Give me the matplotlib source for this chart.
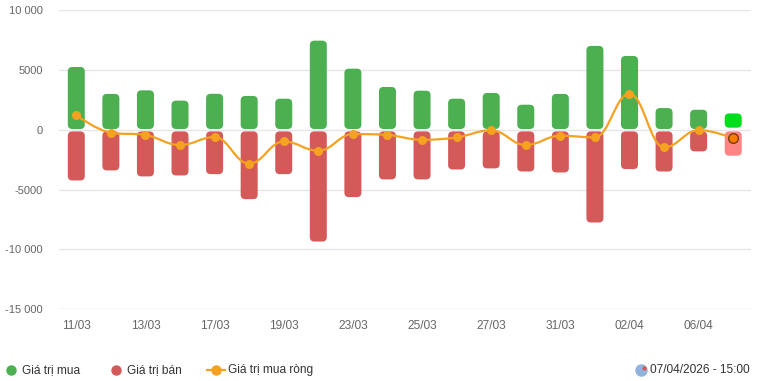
import matplotlib
matplotlib.use("Agg")
import matplotlib.pyplot as plt
from matplotlib.patches import FancyBboxPatch
from matplotlib.path import Path
from matplotlib.patches import PathPatch
from matplotlib.lines import Line2D
import numpy as np

plt.rcParams['font.family'] = ['Liberation Sans', 'DejaVu Sans']

dates = ["11/03", "12/03", "13/03", "16/03", "17/03", "18/03", "19/03", "20/03",
         "23/03", "24/03", "25/03", "26/03", "27/03", "30/03", "31/03", "01/04",
         "02/04", "03/04", "06/04", "07/04"]
buy = [5240, 2990, 3290, 2430, 3000, 2820, 2590, 7440, 5100, 3570,
       3260, 2590, 3070, 2090, 2990, 7000, 6160, 1810, 1670, 1360]
sell = [4240, 3400, 3900, 3820, 3710, 5800, 3710, 9340, 5630, 4150,
        4150, 3320, 3230, 3490, 3570, 7750, 3290, 3490, 1810, 2170]
net = [1200, -250, -440, -1280, -610, -2840, -980, -1760, -360, -440,
       -840, -640, -50, -1280, -500, -640, 3010, -1480, -30, -700]
yticks = [10000, 5000, 0, -5000, -10000, -15000]
ytick_labels = ["10 000", "5000", "0", "-5000", "-10 000", "-15 000"]
legend_labels = ["Giá trị mua", "Giá trị bán", "Giá trị mua ròng"]
timestamp = "07/04/2026 - 15:00"

W, H = 758, 381
fig = plt.figure(figsize=(W / 100, H / 100), dpi=100)
ax_l, ax_r, ax_t, ax_b = 59, 750.5, 10, 309.3
ax = fig.add_axes([ax_l / W, 1 - ax_b / H, (ax_r - ax_l) / W, (ax_b - ax_t) / H])

n = len(dates)
ax.set_xlim(-0.5, n - 0.5)
ax.set_ylim(-15000, 10000)

xu_per_px = n / (ax_r - ax_l)
yu_per_px = 25000 / (ax_b - ax_t)
aspect = yu_per_px / xu_per_px
r_px = 4.5
bar_w = 17 * xu_per_px

GREEN, RED = "#4caf50", "#d45a5a"
GREEN_LAST, RED_LAST = "#00dd1c", "#ff8585"
ORANGE = "#f4a21f"

gap_top = 60
gap_bot = 140
for i in range(n):
    gc = GREEN_LAST if i == n - 1 else GREEN
    rc = RED_LAST if i == n - 1 else RED
    top = gap_top if i < n - 1 else 170
    p = FancyBboxPatch((i - bar_w / 2, top), bar_w, buy[i] - top,
                       boxstyle=f"round,pad=0,rounding_size={r_px * xu_per_px}",
                       mutation_aspect=aspect, fc=gc, ec="none", zorder=2)
    ax.add_patch(p)
    p = FancyBboxPatch((i - bar_w / 2, -sell[i]), bar_w, sell[i] - gap_bot,
                       boxstyle=f"round,pad=0,rounding_size={r_px * xu_per_px}",
                       mutation_aspect=aspect, fc=rc, ec="none", zorder=2)
    ax.add_patch(p)

# Highcharts-like spline through net values
xs = np.arange(n, dtype=float)
ys = np.array(net, dtype=float)
sm = 1.5
den = sm + 1
lcx = xs.copy(); lcy = ys.copy(); rcx = xs.copy(); rcy = ys.copy()
for i in range(1, n - 1):
    px_, py_ = xs[i - 1], ys[i - 1]
    nx_, ny_ = xs[i + 1], ys[i + 1]
    x, y = xs[i], ys[i]
    lx = (sm * x + px_) / den; ly = (sm * y + py_) / den
    rx = (sm * x + nx_) / den; ry = (sm * y + ny_) / den
    corr = ((ry - ly) * (rx - x)) / (rx - lx) + y - ry
    ly += corr; ry += corr
    if ly > py_ and ly > y:
        ly = max(py_, y); ry = 2 * y - ly
    elif ly < py_ and ly < y:
        ly = min(py_, y); ry = 2 * y - ly
    if ry > ny_ and ry > y:
        ry = max(ny_, y); ly = 2 * y - ry
    elif ry < ny_ and ry < y:
        ry = min(ny_, y); ly = 2 * y - ry
    lcx[i], lcy[i], rcx[i], rcy[i] = lx, ly, rx, ry
verts = [(xs[0], ys[0])]
codes = [Path.MOVETO]
for i in range(1, n):
    verts += [(rcx[i - 1], rcy[i - 1]), (lcx[i], lcy[i]), (xs[i], ys[i])]
    codes += [Path.CURVE4] * 3
ax.add_patch(PathPatch(Path(verts, codes), fc="none", ec=ORANGE, lw=1.6, zorder=3,
                       capstyle="round", joinstyle="round"))
ax.plot(xs[:-1], ys[:-1], "o", color=ORANGE, ms=6.5, mec="none", zorder=4)
ax.plot(xs[-1:], ys[-1:], "o", color="#f57c00", ms=7, mec="#7a3b10", mew=1.0, zorder=4)

# grid and axes
for v in yticks[:-1]:
    ax.axhline(v, color="#e6e6e6", lw=1, zorder=1)
ax.axhline(-15000, color="#ccd6eb", lw=1, zorder=1)
for s in ax.spines.values():
    s.set_visible(False)
ax.set_yticks(yticks)
ax.set_yticklabels(ytick_labels)
ax.set_xticks(range(0, n, 2))
ax.set_xticklabels(dates[0::2])
ax.tick_params(axis="y", length=0, pad=11.5, labelsize=8, labelcolor="#666666")
ax.tick_params(axis="x", length=0, pad=8, labelsize=8.6, labelcolor="#666666")

# legend (figure pixels)
def fx(px):
    return px / W
def fy(py):
    return 1 - py / H

ly_px = 370
fs = 8.6
fig.add_artist(Line2D([fx(11)], [fy(ly_px)], marker="o", ms=7.5, color=GREEN, mec="none"))
fig.text(fx(22), fy(ly_px), legend_labels[0], fontsize=fs, color="#333333", va="center", ha="left")
fig.add_artist(Line2D([fx(116)], [fy(ly_px)], marker="o", ms=7.5, color=RED, mec="none"))
fig.text(fx(127), fy(ly_px), legend_labels[1], fontsize=fs, color="#333333", va="center", ha="left")
fig.add_artist(Line2D([fx(207), fx(225)], [fy(ly_px), fy(ly_px)], color=ORANGE, lw=1.6))
fig.add_artist(Line2D([fx(216)], [fy(ly_px)], marker="o", ms=7.5, color=ORANGE, mec="none"))
fig.text(fx(228), fy(ly_px), legend_labels[2], fontsize=fs, color="#333333", va="center", ha="left")

# timestamp with icon
fig.add_artist(Line2D([fx(641)], [fy(ly_px)], marker="o", ms=9, color="#8fb3da", mec="none"))
fig.add_artist(Line2D([fx(644)], [fy(ly_px - 2)], marker="o", ms=3, color="#e05050", mec="none"))
fig.text(fx(750), fy(ly_px), timestamp, fontsize=fs, color="#333333", va="center", ha="right")

fig.savefig("out.png", dpi=100)
